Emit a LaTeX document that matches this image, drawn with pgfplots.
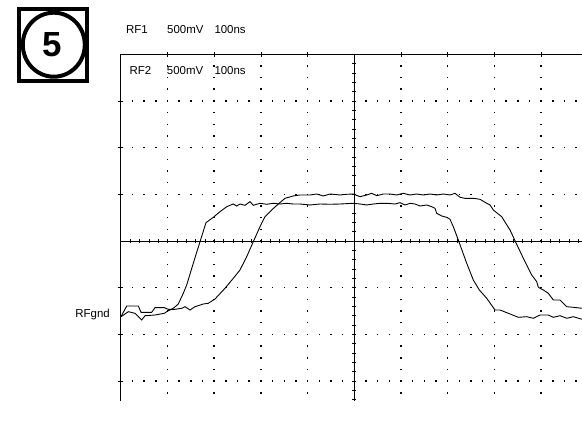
\documentclass[border=0pt]{standalone}
\usepackage{pgfplots}
\pgfplotsset{compat=1.18}
\usepackage{fontspec}
\setmainfont{Liberation Sans}

% scope screen: centre at (354.3,186) bp, one division = 46.7 bp
\def\scx{354.3}
\def\scy{186}
\def\sdv{46.7}

\begin{document}
\begin{tikzpicture}[x=1bp,y=1bp]
\useasboundingbox (0,0) rectangle (582,427);

% dotted graticule
\foreach \i in {-4,-3,-2,-1,1,2,3,4} {
  \foreach \j in {-13,...,15} {
    \fill ({\scx+\i*\sdv-0.75},{\scy+\j*\sdv/4-0.75}) rectangle ++(1.5,1.5);
  }
}
\foreach \j in {-3,-2,-1,1,2,3} {
  \foreach \i in {-19,...,19} {
    \fill ({\scx+\i*\sdv/4-0.75},{\scy+\j*\sdv-0.75}) rectangle ++(1.5,1.5);
  }
}

% frame (left and top only) and centre cross
\draw[line width=0.8bp] ({\scx-5*\sdv},{\scy-3.42*\sdv}) -- ({\scx-5*\sdv},{\scy+4*\sdv}) -- (582,{\scy+4*\sdv});
\draw[line width=0.8bp] ({\scx-5*\sdv},\scy) -- (582,\scy);
\draw[line width=0.8bp] (\scx,{\scy-3.42*\sdv}) -- (\scx,{\scy+4*\sdv});
\foreach \k in {-24,...,24} {
  \draw[line width=0.6bp] ({\scx+\k*\sdv/5},{\scy-2}) -- ({\scx+\k*\sdv/5},{\scy+2});
}
\foreach \k in {-17,...,19} {
  \draw[line width=0.6bp] ({\scx-2},{\scy+\k*\sdv/5}) -- ({\scx+2},{\scy+\k*\sdv/5});
}
\foreach \j in {-3,-2,-1,1,2,3} {
  \draw[line width=0.6bp] ({\scx-5*\sdv-3},{\scy+\j*\sdv}) -- ({\scx-5*\sdv+2},{\scy+\j*\sdv});
}
\foreach \i in {-4,-3,-2,-1,1,2,3,4} {
  \draw[line width=0.6bp] ({\scx+\i*\sdv},{\scy+4*\sdv-2.5}) -- ({\scx+\i*\sdv},{\scy+4*\sdv+2.5});
}

% labels
\begin{scope}[every node/.style={inner sep=0, font=\fontsize{11.5}{13}\selectfont}]
\node[anchor=base west] at (126,393.7) {RF1};
\node[anchor=base west] at (167,393.7) {500mV};
\node[anchor=base west] at (214.3,393.7) {100ns};
\node[anchor=base west] at (129.3,353) {RF2};
\node[anchor=base west] at (166.7,353) {500mV};
\node[anchor=base west] at (214.3,353) {100ns};
\node[anchor=base east] at (110,109.7) {RFgnd};
\end{scope}

% figure number badge
\draw[line width=4bp] (18.7,346.3) rectangle (87.3,418.3);
\draw[line width=4bp] (53.8,382.3) ellipse [x radius=31, y radius=32];
\node[inner sep=0, font=\fontsize{35}{35}\selectfont\bfseries] at (52.5,382.8) {5};

\begin{axis}[
    at={(120.8bp,26.3bp)},
    anchor=south west,
    scale only axis,
    width=461.16bp,
    height=346.51bp,
    xmin=-5, xmax=4.875,
    ymin=-3.42, ymax=4,
    axis line style={draw=none},
    ticks=none,
    clip=true,
    ]
% RF1: early edge
\addplot[black, line width=0.9bp] table {
x y
-4.996 -1.621
-4.839 -1.514
-4.696 -1.548
-4.552 -1.692
-4.482 -1.600
-4.268 -1.585
-4.069 -1.548
-3.983 -1.493
-3.876 -1.441
-3.769 -1.349
-3.662 -1.120
-3.589 -0.942
-3.448 -0.478
-3.304 -0.015
-3.176 0.392
-3.019 0.507
-2.876 0.627
-2.732 0.734
-2.591 0.792
-2.518 0.749
-2.448 0.792
-2.340 0.764
-2.233 0.842
-2.163 0.764
-2.019 0.807
-1.876 0.786
-1.734 0.807
-1.591 0.792
-1.448 0.807
-1.306 0.792
-1.163 0.792
-0.949 0.771
-0.734 0.792
-0.520 0.786
-0.306 0.792
-0.021 0.807
0.122 0.792
0.266 0.771
0.407 0.792
0.550 0.807
0.694 0.807
0.872 0.792
0.979 0.820
1.086 0.771
1.193 0.807
1.300 0.792
1.407 0.749
1.550 0.771
1.657 0.734
1.728 0.700
1.764 0.593
1.872 0.535
1.979 0.507
2.049 0.465
2.120 0.306
2.227 0.021
2.407 -0.478
2.548 -0.835
2.677 -1.049
2.835 -1.227
3.013 -1.478
3.120 -1.478
3.298 -1.548
3.512 -1.634
3.692 -1.621
3.833 -1.655
3.976 -1.585
4.154 -1.585
4.261 -1.634
4.405 -1.600
4.548 -1.655
4.690 -1.621
4.876 -1.677
};
% RF2: late edge
\addplot[black, line width=0.9bp] table {
x y
-4.996 -1.621
-4.874 -1.392
-4.625 -1.392
-4.567 -1.527
-4.338 -1.527
-4.268 -1.428
-4.069 -1.428
-3.983 -1.463
-3.839 -1.463
-3.696 -1.441
-3.625 -1.407
-3.518 -1.478
-3.411 -1.407
-3.233 -1.349
-3.126 -1.334
-2.983 -1.242
-2.769 -1.013
-2.591 -0.799
-2.448 -0.621
-2.304 -0.336
-2.163 -0.015
-2.019 0.306
-1.912 0.520
-1.769 0.664
-1.627 0.792
-1.484 0.914
-1.306 0.964
-1.163 0.985
-0.949 0.985
-0.805 1.006
-0.664 0.964
-0.520 1.006
-0.306 0.985
-0.163 1.000
-0.021 1.006
0.122 0.949
0.266 0.985
0.373 1.021
0.480 0.970
0.621 1.006
0.764 1.006
0.908 0.985
1.049 1.021
1.193 0.985
1.336 1.006
1.478 0.985
1.621 1.006
1.764 0.985
1.906 1.006
2.049 0.985
2.156 1.021
2.263 0.936
2.370 0.914
2.548 0.914
2.692 0.893
2.835 0.807
2.906 0.771
2.976 0.664
3.156 0.520
3.334 0.236
3.441 0.006
3.619 -0.370
3.799 -0.728
3.906 -0.872
3.940 -0.991
4.047 -1.049
4.154 -1.120
4.261 -1.263
4.405 -1.263
4.548 -1.407
4.690 -1.420
4.876 -1.441
};
\end{axis}
\end{tikzpicture}
\end{document}
